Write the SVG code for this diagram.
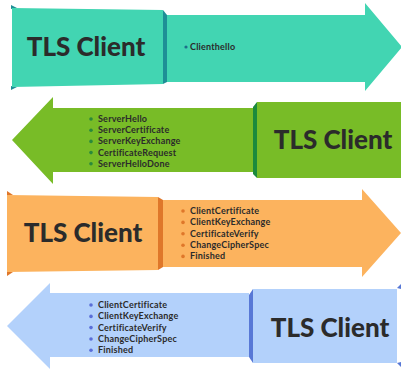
<svg xmlns="http://www.w3.org/2000/svg" width="401" height="370" viewBox="0 0 401 370">
<style>
.title{font-family:Lato,"Open Sans","Liberation Sans",sans-serif;font-weight:900;font-size:26px;fill:#2b2b2b;text-anchor:middle}
.item{font-family:Lato,"Open Sans","Liberation Sans",sans-serif;font-weight:700;font-size:9px;fill:#2b2b2b;letter-spacing:0.2px}
.teal{fill:#42d5b2}.tealD{fill:#1e8f96}
.green{fill:#78bc27}.greenD{fill:#1b8a3c}
.orange{fill:#fcb35e}.orangeD{fill:#df772a}
.blue{fill:#b3d1fb}.blueD{fill:#5878d6}
</style>
<rect width="401" height="370" fill="#ffffff"/>
<g id="connectors">
<polygon class="teal" points="167,15 365,15 365,3 402,47 365,91 365,82 167,82"/>
<polygon class="green" points="253,108 53,108 53,97 12,140 53,184 53,172 253,172"/>
<polygon class="orange" points="163,200 362,200 362,189 401,233 362,277 362,267 163,267"/>
<polygon class="blue" points="249,293 50,293 50,283 7,326 50,369 50,357 249,357"/>
</g>
<g id="node1">
<polygon class="tealD" points="11,5 17,8 11,9"/>
<polygon class="tealD" points="11,86 17,87 11,90"/>
<polygon class="teal" points="12,8 163,10 163,84 12,87"/>
<polygon class="tealD" points="163,10 167,15 167,82 163,84"/>
<text class="title" x="86" y="56">TLS Client</text>
</g>
<g id="msg1">
<circle cx="186" cy="47" r="1.6" fill="#1d6f8a"/>
<text class="item" x="190" y="50" font-size="8.5">Clienthello</text>
</g>
<g id="node2">
<polygon class="green" points="257,102 401,102 401,178 257,178"/>
<polygon class="greenD" points="253,107 257,102 257,178 253,174"/>
<text class="title" x="333" y="149">TLS Client</text>
</g>
<g id="msg2" fill="#2a8a3a">
<circle cx="91" cy="119" r="1.8"/>
<circle cx="91" cy="130.2" r="1.8"/>
<circle cx="91" cy="141.4" r="1.8"/>
<circle cx="91" cy="152.6" r="1.8"/>
<circle cx="91" cy="163.8" r="1.8"/>
<text class="item" x="98" y="122">ServerHello</text>
<text class="item" x="98" y="133.2">ServerCertificate</text>
<text class="item" x="98" y="144.4">ServerKeyExchange</text>
<text class="item" x="98" y="155.6">CertificateRequest</text>
<text class="item" x="98" y="166.8">ServerHelloDone</text>
</g>
<g id="node3">
<polygon class="orangeD" points="7,191 13,195 7,196"/>
<polygon class="orangeD" points="7,271 13,272 7,276"/>
<polygon class="orange" points="7,195 158,197 158,270 7,272"/>
<polygon class="orangeD" points="158,197 163,200 163,267 158,270"/>
<text class="title" x="83" y="242">TLS Client</text>
</g>
<g id="msg3" fill="#df772a">
<circle cx="183" cy="211" r="1.8"/>
<circle cx="183" cy="222.4" r="1.8"/>
<circle cx="183" cy="233.8" r="1.8"/>
<circle cx="183" cy="245.2" r="1.8"/>
<circle cx="183" cy="256.4" r="1.8"/>
<text class="item" x="190" y="214">ClientCertificate</text>
<text class="item" x="190" y="225.4">ClientKeyExchange</text>
<text class="item" x="190" y="236.8">CertificateVerify</text>
<text class="item" x="190" y="248.2">ChangeCipherSpec</text>
<text class="item" x="190" y="259.4">Finished</text>
</g>
<g id="node4">
<polygon class="blue" points="253,289 397,289 397,363 253,363"/>
<polygon class="blueD" points="249,295 253,289 253,363 249,357"/>
<polygon class="blueD" points="401,284 397,288 401,289"/>
<polygon class="blueD" points="401,362 397,363 401,367"/>
<text class="title" x="330" y="337">TLS Client</text>
</g>
<g id="msg4" fill="#5a6ed8">
<circle cx="91" cy="305" r="1.8"/>
<circle cx="91" cy="316.4" r="1.8"/>
<circle cx="91" cy="327.6" r="1.8"/>
<circle cx="91" cy="339" r="1.8"/>
<circle cx="91" cy="350.2" r="1.8"/>
<text class="item" x="98" y="308">ClientCertificate</text>
<text class="item" x="98" y="319.4">ClientKeyExchange</text>
<text class="item" x="98" y="330.6">CertificateVerify</text>
<text class="item" x="98" y="342">ChangeCipherSpec</text>
<text class="item" x="98" y="353.2">Finished</text>
</g>
</svg>
